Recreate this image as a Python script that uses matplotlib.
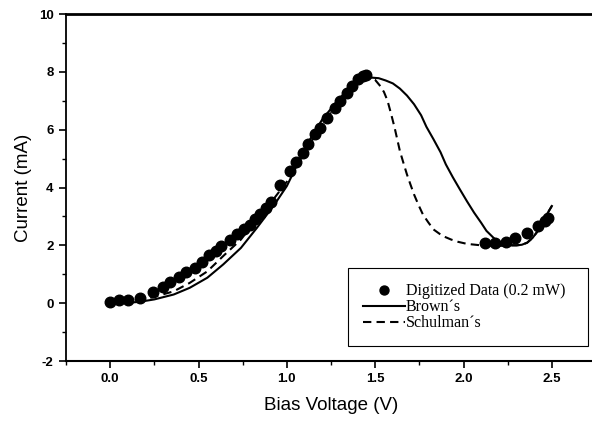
import matplotlib
matplotlib.use("Agg")
import matplotlib.pyplot as plt
from matplotlib.ticker import MultipleLocator

data_v = [0.00, 0.05, 0.10, 0.17, 0.24, 0.30, 0.34, 0.39, 0.43, 0.48, 0.52, 0.56,
          0.60, 0.63, 0.68, 0.72, 0.76, 0.79, 0.82, 0.85, 0.88, 0.91, 0.96, 1.02,
          1.05, 1.09, 1.12, 1.16, 1.19, 1.23, 1.27, 1.30, 1.34, 1.37, 1.40, 1.43, 1.45,
          2.12, 2.18, 2.24, 2.29, 2.36, 2.42, 2.46, 2.48]
data_i = [0.05, 0.10, 0.12, 0.18, 0.39, 0.55, 0.74, 0.90, 1.07, 1.22, 1.41, 1.68,
          1.82, 1.97, 2.17, 2.38, 2.55, 2.72, 2.90, 3.07, 3.28, 3.50, 4.10, 4.57,
          4.89, 5.20, 5.51, 5.84, 6.07, 6.41, 6.76, 6.99, 7.28, 7.51, 7.74, 7.85, 7.88,
          2.07, 2.09, 2.11, 2.24, 2.43, 2.66, 2.84, 2.95]

# Brown's model
brown_v = [0.00, 0.10, 0.17, 0.25, 0.36, 0.45, 0.55, 0.64, 0.74, 0.83, 0.93, 1.00,
           1.04, 1.11, 1.20, 1.30, 1.38, 1.44, 1.48, 1.52, 1.56, 1.60, 1.64, 1.68,
           1.72, 1.76, 1.79, 1.83, 1.87, 1.90, 1.94, 1.98, 2.02, 2.06, 2.10, 2.13,
           2.17, 2.20, 2.23, 2.26, 2.30, 2.33, 2.36, 2.39, 2.42, 2.46, 2.50]
brown_i = [0.00, 0.01, 0.05, 0.13, 0.30, 0.53, 0.88, 1.34, 1.91, 2.60, 3.41, 4.05,
           4.55, 5.45, 6.35, 7.10, 7.55, 7.75, 7.80, 7.78, 7.70, 7.60, 7.42, 7.18,
           6.88, 6.50, 6.10, 5.67, 5.22, 4.80, 4.35, 3.93, 3.52, 3.13, 2.78, 2.50,
           2.26, 2.12, 2.05, 2.01, 2.00, 2.02, 2.09, 2.25, 2.49, 2.95, 3.36]

# Schulman's model
schul_v = [0.00, 0.10, 0.17, 0.25, 0.36, 0.45, 0.55, 0.64, 0.74, 0.83, 0.93, 1.00,
           1.10, 1.20, 1.30, 1.38, 1.44, 1.47, 1.50, 1.53, 1.55, 1.57, 1.59, 1.61,
           1.64, 1.66, 1.68, 1.70, 1.72, 1.745, 1.77, 1.80, 1.83, 1.88, 1.93, 1.97,
           2.02, 2.10, 2.20, 2.30, 2.33, 2.36, 2.39, 2.42, 2.46, 2.50]
schul_i = [0.00, 0.03, 0.10, 0.22, 0.41, 0.70, 1.10, 1.63, 2.20, 2.90, 3.64, 4.20,
           5.20, 6.20, 7.00, 7.55, 7.78, 7.80, 7.72, 7.50, 7.30, 7.00, 6.55, 6.07,
           5.26, 4.85, 4.45, 4.10, 3.76, 3.40, 3.07, 2.80, 2.55, 2.33, 2.20, 2.12,
           2.05, 2.00, 1.98, 2.00, 2.02, 2.09, 2.25, 2.49, 2.95, 3.36]

x_ticks = [0.0, 0.5, 1.0, 1.5, 2.0, 2.5]
x_labels = ["0.0", "0.5", "1.0", "1.5", "2.0", "2.5"]
y_ticks = [-2, 0, 2, 4, 6, 8, 10]
y_labels = ["-2", "0", "2", "4", "6", "8", "10"]

fig = plt.figure(figsize=(5.92, 4.22), dpi=100)
ax = fig.add_axes([66 / 592, 61 / 422, 530 / 592, 347 / 422])

ax.plot(data_v, data_i, "o", color="black", markersize=7.6, label="Digitized Data (0.2 mW)",
        zorder=3)
ax.plot(brown_v, brown_i, "-", color="black", lw=1.5, label="Brown\u00b4s", zorder=2)
ax.plot(schul_v, schul_i, "--", color="black", lw=1.5, dashes=(4, 2.5), label="Schulman\u00b4s",
        zorder=2)

ax.set_xlim(-0.25, 2.75)
ax.set_ylim(-2, 10)
ax.set_xticks(x_ticks)
ax.set_xticklabels(x_labels)
ax.set_yticks(y_ticks)
ax.set_yticklabels(y_labels)
ax.xaxis.set_minor_locator(MultipleLocator(0.25))
ax.yaxis.set_minor_locator(MultipleLocator(1))

for lab in ax.get_xticklabels() + ax.get_yticklabels():
    lab.set_fontfamily("Liberation Sans")
    lab.set_fontsize(9.5)
    lab.set_fontweight("bold")

ax.tick_params(which="major", direction="out", length=5, width=1.2, pad=4)
ax.tick_params(which="minor", direction="out", length=3, width=1.0)
ax.tick_params(top=False, right=False)

ax.spines["right"].set_visible(False)
ax.spines["top"].set_linewidth(2.0)
ax.spines["left"].set_linewidth(1.3)
ax.spines["bottom"].set_linewidth(1.5)

ax.set_xlabel("Bias Voltage (V)", fontfamily="Liberation Sans", fontsize=13.5, labelpad=8)
ax.set_ylabel("Current (mA)", fontfamily="Liberation Sans", fontsize=13.5, labelpad=5)

leg = ax.legend(loc="upper left", bbox_to_anchor=(282 / 530, 14 / 347, 240 / 530, 79 / 347),
                mode="expand",
                prop={"family": "Liberation Serif", "size": 11.5},
                frameon=True, fancybox=False, edgecolor="black", framealpha=1,
                handlelength=2.6, handletextpad=0.05, borderpad=0.95, labelspacing=0.0,
                borderaxespad=0, markerscale=0.85)
leg.get_frame().set_linewidth(0.8)

fig.savefig("out.png", dpi=100)
